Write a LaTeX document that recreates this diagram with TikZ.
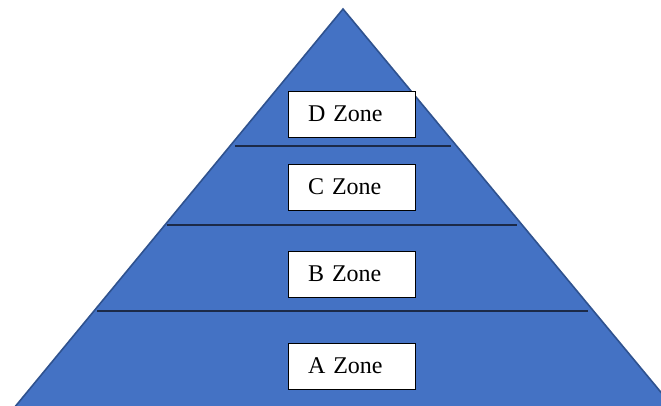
\documentclass[tikz,border=0pt]{standalone}
\usepackage{fontspec}
\setmainfont{Liberation Serif}
\usepackage{tikz}
\definecolor{zonefill}{RGB}{68,114,196}
\definecolor{zoneedge}{RGB}{47,82,143}
\definecolor{zoneline}{RGB}{28,42,72}

\begin{document}
\begin{tikzpicture}[x = 1pt, y = -1pt]
	\tikzstyle{every node} = [rectangle, draw = black, fill = white, line width = 0.8pt, text width = 87pt, inner xsep = 20pt, minimum height = 46pt, align = left, font = \fontsize{24}{28}\selectfont]
	\useasboundingbox (0, 0) rectangle (661, 406);
	\clip (0, 0) rectangle (661, 406);
\coordinate (top) at (343, 9);
\coordinate (bl) at (14, 408);
\coordinate (br) at (674, 408);
\coordinate (d1) at (235, 146);
\coordinate (d2) at (451, 146);
\coordinate (c1) at (167, 225);
\coordinate (c2) at (517, 225);
\coordinate (b1) at (97, 311);
\coordinate (b2) at (588, 311);

	\path[draw = zoneedge, fill = zonefill, line width = 1.6pt] (top) -- (bl) -- (br) -- cycle;
	\path[draw = zoneline, line width = 1.5pt] (d1) -- (d2);
	\path[draw = zoneline, line width = 1.5pt] (c1) -- (c2);
	\path[draw = zoneline, line width = 1.5pt] (b1) -- (b2);

\node (D) at (351.5, 114) {D Zone};
\node (C) at (351.5, 187) {C Zone};
\node (B) at (351.5, 274) {B Zone};
\node (A) at (351.5, 366) {A Zone};
	\end{tikzpicture}
\end{document}
